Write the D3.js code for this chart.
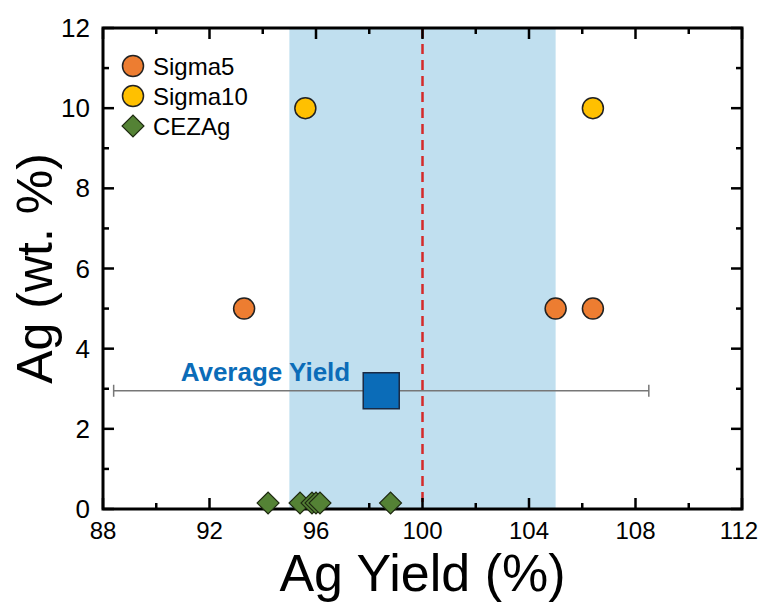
<!DOCTYPE html>
<html>
<head>
<meta charset="utf-8">
<script src="https://cdn.jsdelivr.net/npm/d3@7"></script>
<style>
  body { margin: 0; background: #fff; }
  text { font-family: "Liberation Sans", Arial, sans-serif; }
</style>
</head>
<body>
<div class="canvas"></div>
<script>
// Data
const sigma5 = [[93.3, 5], [105.0, 5], [106.4, 5]];
const sigma10 = [[95.6, 10], [106.4, 10]];
const cezag = [[94.2, 0.15], [95.4, 0.15], [95.85, 0.15], [96.0, 0.15], [96.15, 0.15], [98.8, 0.15]];
const average = { x: 98.45, y: 2.95, err: 10.05 };
const band = [95, 105];
const target = 100;
const xTicks = [88, 92, 96, 100, 104, 108, 112];
const yTicks = [0, 2, 4, 6, 8, 10, 12];
const legendItems = [
    { name: 'Sigma5', shape: 'circle', color: '#ED7D31' },
    { name: 'Sigma10', shape: 'circle', color: '#FFC000' },
    { name: 'CEZAg', shape: 'diamond', color: '#548235' },
];

// Dims
const dims = { width: 759, height: 604, left: 103, right: 17, top: 28, bottom: 95 };
const gw = dims.width - dims.left - dims.right;
const gh = dims.height - dims.top - dims.bottom;

const svg = d3.select('.canvas').append('svg')
    .attr('width', dims.width)
    .attr('height', dims.height);

const graph = svg.append('g')
    .attr('transform', `translate(${dims.left}, ${dims.top})`);

const x = d3.scaleLinear().domain([88, 112]).range([0, gw]);
const y = d3.scaleLinear().domain([0, 12]).range([gh, 0]);

// Shaded band
graph.append('rect')
    .attr('x', x(band[0]))
    .attr('y', 0)
    .attr('width', x(band[1]) - x(band[0]))
    .attr('height', gh)
    .attr('fill', '#C0DFEF');

// Target line
graph.append('line')
    .attr('x1', x(target)).attr('x2', x(target))
    .attr('y1', 0).attr('y2', gh)
    .attr('stroke', '#D42A2A')
    .attr('stroke-width', 2.5)
    .attr('stroke-dasharray', '10,6');

// Ticks pointing inward, mirrored on all four sides
const xMinor = d3.range(90, 112, 4);
const yMinor = d3.range(1, 12, 2);
const tickStyle = sel => sel.attr('stroke', '#000').attr('stroke-width', 2.5);

[[xTicks, 11], [xMinor, 6]].forEach(([vals, len]) => {
    tickStyle(graph.append('g').selectAll('line').data(vals).enter().append('line')
        .attr('x1', d => x(d)).attr('x2', d => x(d))
        .attr('y1', gh).attr('y2', gh - len));
    tickStyle(graph.append('g').selectAll('line').data(vals).enter().append('line')
        .attr('x1', d => x(d)).attr('x2', d => x(d))
        .attr('y1', 0).attr('y2', len));
});
[[yTicks, 11], [yMinor, 6]].forEach(([vals, len]) => {
    tickStyle(graph.append('g').selectAll('line').data(vals).enter().append('line')
        .attr('x1', 0).attr('x2', len)
        .attr('y1', d => y(d)).attr('y2', d => y(d)));
    tickStyle(graph.append('g').selectAll('line').data(vals).enter().append('line')
        .attr('x1', gw).attr('x2', gw - len)
        .attr('y1', d => y(d)).attr('y2', d => y(d)));
});

graph.selectAll('.xlabel').data(xTicks).enter().append('text')
    .attr('x', d => x(d))
    .attr('dx', (d, i) => i === xTicks.length - 1 ? -3 : 0)
    .attr('y', gh + 30)
    .attr('text-anchor', 'middle')
    .attr('font-size', 24)
    .text(d => d);
graph.selectAll('.ylabel').data(yTicks).enter().append('text')
    .attr('x', -13)
    .attr('y', d => y(d) + 9)
    .attr('text-anchor', 'end')
    .attr('font-size', 26)
    .text(d => d);

// Frame
graph.append('rect')
    .attr('width', gw).attr('height', gh)
    .attr('fill', 'none')
    .attr('stroke', '#000')
    .attr('stroke-width', 3);

// Average error bar
graph.append('line')
    .attr('x1', x(average.x - average.err)).attr('x2', x(average.x + average.err))
    .attr('y1', y(average.y)).attr('y2', y(average.y))
    .attr('stroke', '#777').attr('stroke-width', 1.5);
[average.x - average.err, average.x + average.err].forEach(v => {
    graph.append('line')
        .attr('x1', x(v)).attr('x2', x(v))
        .attr('y1', y(average.y) - 6).attr('y2', y(average.y) + 6)
        .attr('stroke', '#777').attr('stroke-width', 1.5);
});
graph.append('rect')
    .attr('x', x(average.x) - 18)
    .attr('y', y(average.y) - 18)
    .attr('width', 36).attr('height', 36)
    .attr('fill', '#0B6CB8')
    .attr('stroke', '#1a2a44').attr('stroke-width', 1.5);
graph.append('text')
    .attr('x', x(average.x) - 31)
    .attr('y', y(average.y) - 10)
    .attr('text-anchor', 'end')
    .attr('font-size', 26)
    .attr('font-weight', 'bold')
    .attr('fill', '#0B6CB8')
    .text('Average Yield');

// Points
const diamond = d3.symbol().type(d3.symbolSquare).size(240);

graph.selectAll('.cez').data(cezag).enter().append('path')
    .attr('d', diamond)
    .attr('transform', d => `translate(${x(d[0])}, ${y(d[1])}) rotate(45)`)
    .attr('fill', '#548235')
    .attr('stroke', '#1f2a12').attr('stroke-width', 1.2);

graph.selectAll('.s5').data(sigma5).enter().append('circle')
    .attr('cx', d => x(d[0])).attr('cy', d => y(d[1]))
    .attr('r', 10.5)
    .attr('fill', '#ED7D31')
    .attr('stroke', '#222').attr('stroke-width', 1.5);

graph.selectAll('.s10').data(sigma10).enter().append('circle')
    .attr('cx', d => x(d[0])).attr('cy', d => y(d[1]))
    .attr('r', 10.5)
    .attr('fill', '#FFC000')
    .attr('stroke', '#222').attr('stroke-width', 1.5);

// Legend
const legend = graph.selectAll('.legend').data(legendItems).enter().append('g')
    .attr('transform', (d, i) => `translate(30, ${38 + i * 30})`);
legend.each(function(d) {
    const g = d3.select(this);
    if (d.shape === 'circle') {
        g.append('circle').attr('r', 10.5)
            .attr('fill', d.color).attr('stroke', '#222').attr('stroke-width', 1.5);
    } else {
        g.append('path').attr('d', diamond).attr('transform', 'rotate(45)')
            .attr('fill', d.color).attr('stroke', '#1f2a12').attr('stroke-width', 1.2);
    }
    g.append('text')
        .attr('x', 20).attr('y', 9)
        .attr('font-size', 24)
        .text(d.name);
});

// Axis titles
svg.append('text')
    .attr('x', dims.left + gw / 2)
    .attr('y', 591)
    .attr('text-anchor', 'middle')
    .attr('font-size', 52)
    .text('Ag Yield (%)');
svg.append('text')
    .attr('transform', `translate(52, ${dims.top + gh / 2}) rotate(-90)`)
    .attr('text-anchor', 'middle')
    .attr('font-size', 50)
    .text('Ag (wt. %)');
</script>
</body>
</html>
